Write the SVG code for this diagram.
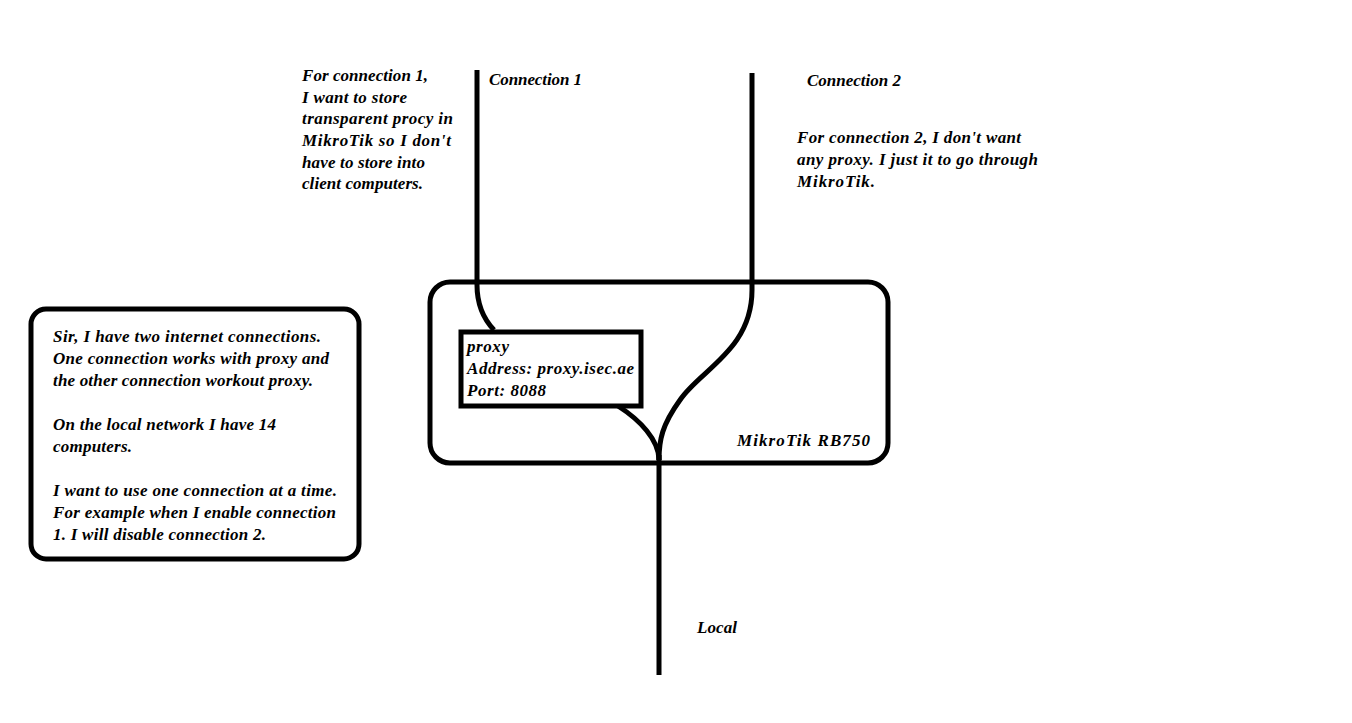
<svg xmlns="http://www.w3.org/2000/svg" width="1352" height="723" viewBox="0 0 1352 723">
<style>
text{font-family:"Liberation Serif","DejaVu Serif",serif;font-style:italic;font-weight:bold;font-size:17px;fill:#000}
.box{fill:none;stroke:#000;stroke-width:5}
.wire{fill:none;stroke:#000;stroke-width:5}
</style>
<rect width="1352" height="723" fill="#fff"/>
<g id="connectors">
<path class="wire" d="M477 70 L477 285 Q477 312 494 330"/>
<path class="wire" d="M752 73 L752 290 C752 350 700 370 680 400 C662 425 659 440 659 460"/>
<path class="wire" d="M618 406 C640 420 659 440 659 460"/>
<path class="wire" d="M659 455 L659 675"/>
</g>
<g id="mikrotik">
<rect class="box" x="430" y="282" width="458" height="181" rx="20"/>
<text x="737" y="446" textLength="133">MikroTik RB750</text>
</g>
<g id="proxy">
<rect class="box" x="461" y="332" width="180" height="74" style="fill:#fff"/>
<text x="467" y="352" textLength="42">proxy</text>
<text x="467" y="374" textLength="167">Address: proxy.isec.ae</text>
<text x="467" y="396" textLength="79">Port: 8088</text>
</g>
<g id="note">
<rect class="box" x="31" y="309" width="328" height="250" rx="15"/>
<text x="53" y="342" textLength="268">Sir, I have two internet connections.</text>
<text x="53" y="364" textLength="276">One connection works with proxy and</text>
<text x="53" y="386" textLength="260">the other connection workout proxy.</text>
<text x="53" y="430" textLength="223">On the local network I have 14</text>
<text x="53" y="452" textLength="79">computers.</text>
<text x="53" y="496" textLength="284">I want to use one connection at a time.</text>
<text x="53" y="518" textLength="283">For example when I enable connection</text>
<text x="53" y="540" textLength="213">1. I will disable connection 2.</text>
</g>
<g id="conn1">
<text x="489" y="85" textLength="93">Connection 1</text>
<text x="302" y="81" textLength="126">For connection 1,</text>
<text x="302" y="103" textLength="105">I want to store</text>
<text x="302" y="124" textLength="151">transparent procy in</text>
<text x="302" y="146" textLength="149">MikroTik so I don't</text>
<text x="302" y="168" textLength="123">have to store into</text>
<text x="302" y="189" textLength="121">client computers.</text>
</g>
<g id="conn2">
<text x="807" y="86" textLength="94">Connection 2</text>
<text x="797" y="143" textLength="224">For connection 2, I don't want</text>
<text x="797" y="165" textLength="241">any proxy. I just it to go through</text>
<text x="797" y="187" textLength="78">MikroTik.</text>
</g>
<g id="local">
<text x="697" y="633" textLength="40">Local</text>
</g>
</svg>
